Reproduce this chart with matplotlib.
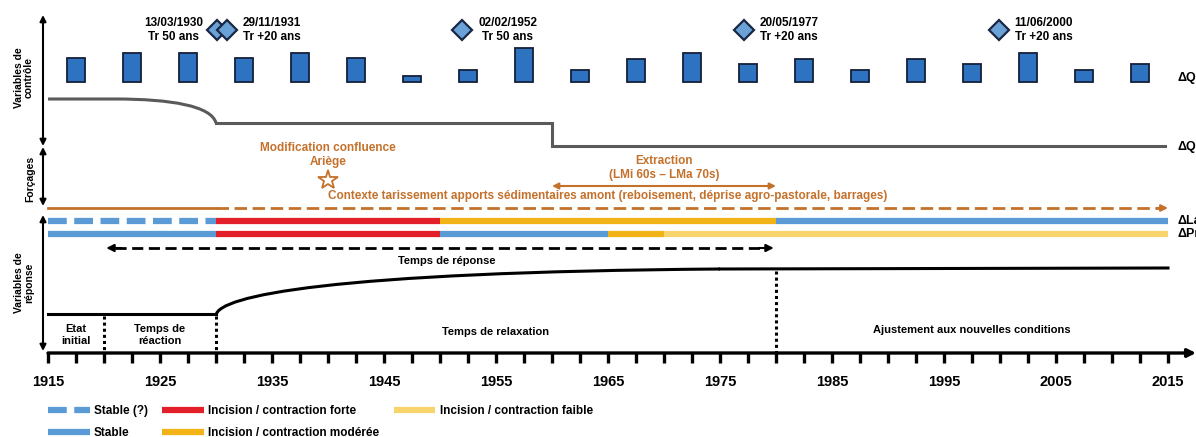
import numpy as np
import matplotlib.pyplot as plt
from matplotlib.path import Path
from matplotlib.patches import PathPatch
from matplotlib.lines import Line2D

plt.rcParams['font.family'] = ['Liberation Sans', 'DejaVu Sans']
plt.rcParams['font.weight'] = 'bold'

# --- data ---
bar_years = [1917.5, 1922.5, 1927.5, 1932.5, 1937.5, 1942.5, 1947.5, 1952.5, 1957.5, 1962.5,
             1967.5, 1972.5, 1977.5, 1982.5, 1987.5, 1992.5, 1997.5, 2002.5, 2007.5, 2012.5]
dql = [24, 29, 29, 24, 29, 24, 6, 12, 34, 12, 23, 29, 18, 23, 12, 23, 18, 29, 12, 18]

flood_years = [1930.1, 1931.0, 1952.0, 1977.1, 1999.9]
flood_labels = ['13/03/1930\nTr 50 ans', '29/11/1931\nTr +20 ans', '02/02/1952\nTr 50 ans',
                '20/05/1977\nTr +20 ans', '11/06/2000\nTr +20 ans']
flood_side = ['left', 'right', 'right', 'right', 'right']

# delta Qs: steps (level in figure rows)
qs_years = [1930, 1960, 1960, 2014.7]
qs_level = [123, 123, 146, 146]

# response variable
resp_years = [1975, 2015]
resp_level = [269, 268]

# states of lateral (La) and profile (Pr) adjustments
la_start = [1915, 1930, 1950, 1980]
la_end = [1930, 1950, 1980, 2015]
la_state = ['stable?', 'forte', 'moderee', 'stable']
pr_start = [1915, 1930, 1950, 1965, 1970]
pr_end = [1930, 1950, 1965, 1970, 2015]
pr_state = ['stable', 'forte', 'stable', 'moderee', 'faible']

state_color = {'stable?': '#5b9bd5', 'stable': '#5b9bd5', 'forte': '#e3202a',
               'moderee': '#f2b316', 'faible': '#f7d56c'}
state_label = {'stable?': 'Stable (?)', 'stable': 'Stable',
               'forte': 'Incision / contraction forte',
               'moderee': 'Incision / contraction modérée',
               'faible': 'Incision / contraction faible'}

ORANGE = '#c4712b'
PX = 11.2           # pixels per year
X0 = 1915 - 48 / PX

fig = plt.figure(figsize=(11.96, 4.37), dpi=100)
ax = fig.add_axes([0, 0, 1, 1])
ax.set_xlim(X0, X0 + 1196 / PX)
ax.set_ylim(437, 0)
ax.axis('off')

# left vertical arrows and labels
for y0, y1 in [(15, 146), (147, 206), (215, 351)]:
    ax.annotate('', xy=(X0 + 43 / PX, y0), xytext=(X0 + 43 / PX, y1),
                arrowprops=dict(arrowstyle='<|-|>', lw=1.5, color='black', mutation_scale=9,
                                shrinkA=0, shrinkB=0))
ax.text(X0 + 24 / PX, 78, 'Variables de\ncontrôle', rotation=90, ha='center', va='center',
        fontsize=7.5, linespacing=1.0)
ax.text(X0 + 30 / PX, 179, 'Forçages', rotation=90, ha='center', va='center', fontsize=7.5)
ax.text(X0 + 24 / PX, 283, 'Variables de\nréponse', rotation=90, ha='center', va='center',
        fontsize=7.5, linespacing=1.0)

# discharge bars
ax.bar(bar_years, -np.array(dql), bottom=82, width=1.6, color='#2e73bf',
       edgecolor='#14203a', linewidth=1.3)

# flood events
ax.plot(flood_years, [30] * len(flood_years), 'D', ms=10, mfc='#6aa2d8', mec='#1a2744', mew=1.6)
for yr, lab, side in zip(flood_years, flood_labels, flood_side):
    if side == 'left':
        ax.text(yr - 1.25, 30, lab, ha='right', va='center', fontsize=8.5,
                multialignment='center', linespacing=1.15)
    else:
        ax.text(yr + 1.4, 30, lab, ha='left', va='center', fontsize=8.5,
                multialignment='center', linespacing=1.15)

# delta Qs line
verts = [(1915, 99), (1921, 99), (1926, 99), (1929.6, 106), (1930, 123)]
codes = [Path.MOVETO, Path.LINETO, Path.CURVE4, Path.CURVE4, Path.CURVE4]
ax.add_patch(PathPatch(Path(verts, codes), fc='none', ec='#5a5a5a', lw=2.2))
ax.plot(qs_years, qs_level, color='#5a5a5a', lw=2.2, solid_joinstyle='miter')

# right labels (cut by the figure edge, as in the original)
for y, lab in [(78, 'ΔQl'), (147, 'ΔQs'), (221, 'ΔLa'), (234, 'ΔPr')]:
    ax.text(X0 + 1177 / PX, y, lab, ha='left', va='center', fontsize=9, clip_on=False)

# forcings
ax.text(1940, 155, 'Modification confluence\nAriège', ha='center', va='center', fontsize=8.5,
        color=ORANGE, linespacing=1.2)
ax.plot([1940], [180], marker='*', ms=15, mfc='white', mec=ORANGE, mew=1.3)
ax.text(1970, 168, 'Extraction\n(LMi 60s – LMa 70s)', ha='center', va='center', fontsize=8.5,
        color=ORANGE, linespacing=1.2)
ax.annotate('', xy=(1960, 186), xytext=(1980, 186),
            arrowprops=dict(arrowstyle='<|-|>', lw=1.5, color=ORANGE, mutation_scale=9,
                            shrinkA=0, shrinkB=0))
ax.text(1940, 196, 'Contexte tarissement apports sédimentaires amont (reboisement, déprise '
        'agro-pastorale, barrages)', ha='left', va='center', fontsize=8.5, color=ORANGE)
ax.plot([1915, 1930], [208, 208], color=ORANGE, lw=2)
ax.plot([1930, 2014.3], [208, 208], color=ORANGE, lw=2, ls=(0, (4.5, 2)))
ax.annotate('', xy=(2015, 208), xytext=(2014, 208),
            arrowprops=dict(arrowstyle='-|>', lw=1.5, color=ORANGE, mutation_scale=10,
                            shrinkA=0, shrinkB=0))

# response bands
for s, e, st in zip(la_start, la_end, la_state):
    ls = (0, (3, 1.2)) if st == 'stable?' else '-'
    ax.plot([s, e], [221, 221], color=state_color[st], lw=4.5, ls=ls, solid_capstyle='butt')
for s, e, st in zip(pr_start, pr_end, pr_state):
    ax.plot([s, e], [234, 234], color=state_color[st], lw=4.5, solid_capstyle='butt')

# response time arrow
ax.plot([1921, 1979], [248, 248], color='black', lw=2, ls=(0, (4, 2)))
for a, b in [(1920.2, 1921.5), (1979.8, 1978.5)]:
    ax.annotate('', xy=(a, 248), xytext=(b, 248),
                arrowprops=dict(arrowstyle='-|>', lw=1.5, color='black', mutation_scale=11,
                                shrinkA=0, shrinkB=0))
ax.text(1950.6, 261, 'Temps de réponse', ha='center', va='center', fontsize=8)

# response curve
ax.plot([1915, 1930], [314, 314], color='black', lw=2.2)
verts = [(1930, 315), (1930.3, 296), (1940, 272), (1975, 269)]
codes = [Path.MOVETO, Path.CURVE4, Path.CURVE4, Path.CURVE4]
ax.add_patch(PathPatch(Path(verts, codes), fc='none', ec='black', lw=2.2))
ax.plot(resp_years, resp_level, color='black', lw=2.2)

# dotted phase limits
ax.plot([1920, 1920], [316, 352], color='black', lw=2.2, ls=(0, (1, 1)))
ax.plot([1930, 1930], [316, 352], color='black', lw=2.2, ls=(0, (1, 1)))
ax.plot([1980, 1980], [271, 352], color='black', lw=2.2, ls=(0, (1, 1)))

ax.text(1917.5, 335, 'Etat\ninitial', ha='center', va='center', fontsize=8, linespacing=1.15)
ax.text(1925, 335, 'Temps de\nréaction', ha='center', va='center', fontsize=8, linespacing=1.15)
ax.text(1955, 332, 'Temps de relaxation', ha='center', va='center', fontsize=8)
ax.text(1997.5, 330, 'Ajustement aux nouvelles conditions', ha='center', va='center', fontsize=8)

# time axis
ax.annotate('', xy=(X0 + 1196 / PX, 353), xytext=(1915, 353),
            arrowprops=dict(arrowstyle='-|>', lw=2.4, color='black', mutation_scale=12,
                            shrinkA=0, shrinkB=0))
ax.vlines(np.arange(1915, 2015.1, 2.5), 353, 363, color='black', lw=2.4)
for yr in range(1915, 2016, 10):
    ax.text(yr, 382, str(yr), ha='center', va='center', fontsize=10.5)

# legend
order = ['stable?', 'stable', 'forte', 'moderee', 'faible']
handles = [Line2D([], [], color=state_color[k], lw=4.5,
                  ls=(0, (3, 1.2)) if k == 'stable?' else '-', solid_capstyle='butt')
           for k in order]
ax.legend(handles, [state_label[k] for k in order], ncol=3, loc='upper left',
          bbox_to_anchor=(1915, 405), bbox_transform=ax.transData, frameon=False,
          fontsize=8.5, handlelength=3.55, handletextpad=0.35, columnspacing=1.2,
          labelspacing=0.85, borderpad=0, borderaxespad=0)

fig.savefig('out.png', dpi=100)
